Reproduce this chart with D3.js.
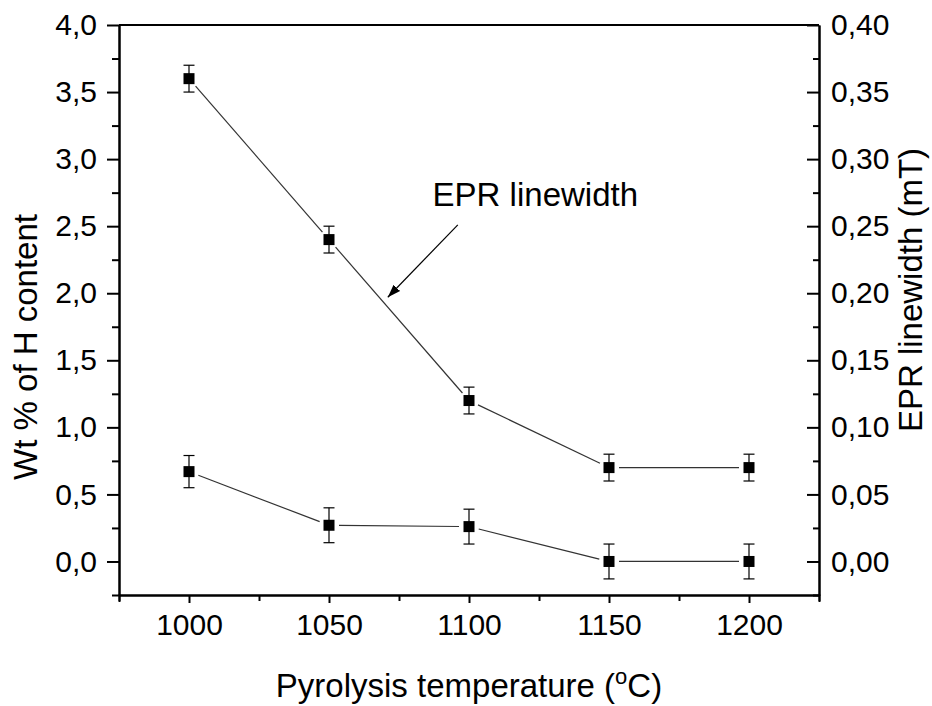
<!DOCTYPE html>
<html>
<head>
<meta charset="utf-8">
<script src="https://cdn.jsdelivr.net/npm/d3@7"></script>
<style>
  body { margin: 0; background: #fff; }
  svg text { font-family: "Liberation Sans", Arial, sans-serif; fill: #000; }
  .axis path, .axis line { stroke: #000; stroke-width: 2; }
</style>
</head>
<body>
<div id="chart"></div>
<script>
// Data
const temps = [1000, 1050, 1100, 1150, 1200];
const epr = [0.36, 0.24, 0.12, 0.07, 0.07];         // mT, right axis
const eprErr = [0.01, 0.01, 0.01, 0.01, 0.01];
const hContent = [0.67, 0.27, 0.26, 0.0, 0.0];      // wt %, left axis
const hErr = [0.12, 0.13, 0.13, 0.13, 0.13];

const xTicks = [1000, 1050, 1100, 1150, 1200];
const yLeftTicks = [0, 0.5, 1, 1.5, 2, 2.5, 3, 3.5, 4];
const yRightTicks = [0, 0.05, 0.1, 0.15, 0.2, 0.25, 0.3, 0.35, 0.4];

// annotation in data units (x, left-axis y)
const annText = { x: 1087, y: 2.65, label: "EPR linewidth" };
const annArrow = { x0: 1096, y0: 2.51, x1: 1071, y1: 1.97 };

const width = 932, height = 706;
const margin = { top: 25, right: 113, bottom: 111, left: 119 };
const w = width - margin.left - margin.right;
const h = height - margin.top - margin.bottom;

const svg = d3.select("#chart").append("svg")
  .attr("width", width)
  .attr("height", height);

const g = svg.append("g")
  .attr("transform", `translate(${margin.left},${margin.top})`);

const x = d3.scaleLinear().domain([975, 1225]).range([0, w]);
const yL = d3.scaleLinear().domain([-0.25, 4.0]).range([h, 0]);
const yR = d3.scaleLinear().domain([-0.025, 0.40]).range([h, 0]);

const commaFmt = (digits) => (d) => d3.format(`.${digits}f`)(d).replace(".", ",");

// frame top line
g.append("line")
  .attr("x1", 0).attr("x2", w).attr("y1", 0).attr("y2", 0)
  .attr("stroke", "#000").attr("stroke-width", 2);

// minor ticks
const xMinor = d3.range(975, 1226, 25).filter(v => !xTicks.includes(v));
const yLMinor = d3.range(-0.25, 4.01, 0.25).map(v => +v.toFixed(2)).filter(v => !yLeftTicks.includes(v));
const yRMinor = d3.range(-0.025, 0.401, 0.025).map(v => +v.toFixed(3)).filter(v => !yRightTicks.includes(v));

g.append("g").attr("class", "axis")
  .attr("transform", `translate(0,${h})`)
  .call(d3.axisBottom(x).tickValues(xMinor).tickSize(6).tickSizeOuter(0).tickFormat(""));
g.append("g").attr("class", "axis")
  .call(d3.axisLeft(yL).tickValues(yLMinor).tickSize(7).tickSizeOuter(0).tickFormat(""));
g.append("g").attr("class", "axis")
  .attr("transform", `translate(${w},0)`)
  .call(d3.axisRight(yR).tickValues(yRMinor).tickSize(-6).tickSizeOuter(0).tickFormat(""));

// major axes
const xAxisG = g.append("g").attr("class", "axis")
  .attr("transform", `translate(0,${h})`)
  .call(d3.axisBottom(x).tickValues(xTicks).tickSize(8).tickSizeOuter(7).tickPadding(11).tickFormat(d3.format("d")));
const yLAxisG = g.append("g").attr("class", "axis")
  .call(d3.axisLeft(yL).tickValues(yLeftTicks).tickSize(12).tickSizeOuter(0).tickPadding(10).tickFormat(commaFmt(1)));
const yRAxisG = g.append("g").attr("class", "axis")
  .attr("transform", `translate(${w},0)`)
  .call(d3.axisRight(yR).tickValues(yRightTicks).tickSize(-12).tickSizeOuter(0).tickPadding(12).tickFormat(commaFmt(2)));

[xAxisG, yLAxisG, yRAxisG].forEach(a => a.selectAll("text").style("font-size", "30px"));
yRAxisG.selectAll(".tick text").attr("x", 12);

// axis titles
g.append("text")
  .attr("x", w / 2 + 0)
  .attr("y", h + 102)
  .attr("text-anchor", "middle")
  .style("font-size", "33px")
  .html('Pyrolysis temperature (<tspan dy="-13" font-size="22px">o</tspan><tspan dy="13">C)</tspan>');

g.append("text")
  .attr("transform", `translate(${37 - margin.left},${347 - margin.top}) rotate(-90)`)
  .attr("text-anchor", "middle")
  .style("font-size", "33px")
  .text("Wt % of H content");

g.append("text")
  .attr("transform", `translate(${w + 103},${290 - margin.top}) rotate(-90)`)
  .attr("text-anchor", "middle")
  .style("font-size", "33px")
  .text("EPR linewidth (mT)");

// series drawing
function drawSeries(values, errs, yScale) {
  const pts = temps.map((t, i) => ({ x: x(t), y: yScale(values[i]), v: values[i], e: errs[i] }));
  const gap = 10;
  const segs = d3.pairs(pts).map(([a, b]) => {
    const dx = b.x - a.x, dy = b.y - a.y, len = Math.hypot(dx, dy);
    return { x1: a.x + dx / len * gap, y1: a.y + dy / len * gap, x2: b.x - dx / len * gap, y2: b.y - dy / len * gap };
  });
  const sg = g.append("g");
  sg.selectAll("line.seg").data(segs).enter().append("line")
    .attr("class", "seg")
    .attr("x1", d => d.x1).attr("y1", d => d.y1)
    .attr("x2", d => d.x2).attr("y2", d => d.y2)
    .attr("stroke", "#333").attr("stroke-width", 1.2);

  const eg = sg.selectAll("g.err").data(pts).enter().append("g").attr("class", "err");
  eg.append("line")
    .attr("x1", d => d.x).attr("x2", d => d.x)
    .attr("y1", d => yScale(d.v + d.e)).attr("y2", d => yScale(d.v - d.e))
    .attr("stroke", "#000").attr("stroke-width", 1.2);
  eg.selectAll("line.cap").data(d => [d.v + d.e, d.v - d.e].map(v => ({ x: d.x, y: yScale(v) })))
    .enter().append("line")
    .attr("class", "cap")
    .attr("x1", d => d.x - 5.5).attr("x2", d => d.x + 5.5)
    .attr("y1", d => d.y).attr("y2", d => d.y)
    .attr("stroke", "#000").attr("stroke-width", 1.2);

  sg.selectAll("rect").data(pts).enter().append("rect")
    .attr("x", d => d.x - 5.5).attr("y", d => d.y - 5.5)
    .attr("width", 11).attr("height", 11)
    .attr("fill", "#000");
}

drawSeries(epr, eprErr, yR);
drawSeries(hContent, hErr, yL);

// annotation
svg.append("defs").append("marker")
  .attr("id", "arrow")
  .attr("viewBox", "0 0 10 10")
  .attr("refX", 10).attr("refY", 5)
  .attr("markerWidth", 13).attr("markerHeight", 13)
  .attr("markerUnits", "userSpaceOnUse")
  .attr("orient", "auto")
  .append("path").attr("d", "M0,1.5 L10,5 L0,8.5 Z").attr("fill", "#000");

g.append("line")
  .attr("x1", x(annArrow.x0)).attr("y1", yL(annArrow.y0))
  .attr("x2", x(annArrow.x1)).attr("y2", yL(annArrow.y1))
  .attr("stroke", "#000").attr("stroke-width", 1.2)
  .attr("marker-end", "url(#arrow)");

g.append("text")
  .attr("x", x(annText.x)).attr("y", yL(annText.y))
  .style("font-size", "33px")
  .text(annText.label);
</script>
</body>
</html>
